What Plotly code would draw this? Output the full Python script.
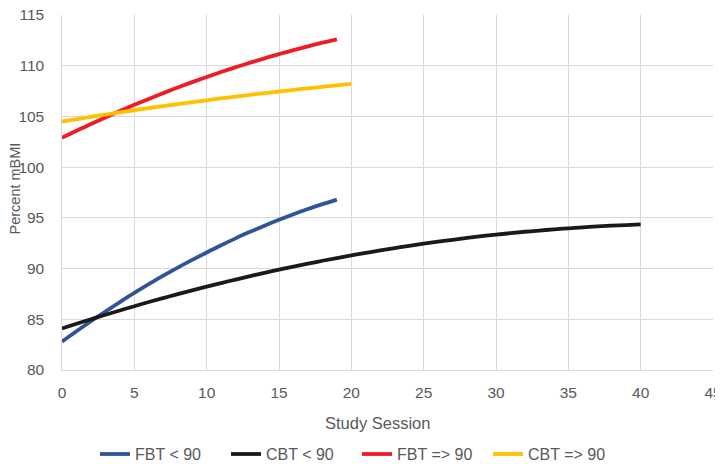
import plotly.graph_objects as go

# x values (study session)
x_fbt_lt = list(range(0, 20))
x_cbt_lt = list(range(0, 41))
x_fbt_ge = list(range(0, 20))
x_cbt_ge = list(range(0, 21))

fbt_lt90 = [82.8, 83.82, 84.81, 85.77, 86.70, 87.60, 88.46, 89.30, 90.10, 90.86,
            91.59, 92.30, 92.98, 93.62, 94.23, 94.81, 95.36, 95.87, 96.35, 96.8]
cbt_lt90 = [84.10, 84.56, 85.01, 85.45, 85.87, 86.29, 86.70, 87.09, 87.48, 87.85,
            88.22, 88.57, 88.92, 89.25, 89.58, 89.89, 90.19, 90.48, 90.77, 91.04,
            91.30, 91.55, 91.79, 92.02, 92.24, 92.45, 92.65, 92.84, 93.02, 93.19,
            93.34, 93.49, 93.63, 93.75, 93.87, 93.97, 94.07, 94.16, 94.23, 94.29, 94.35]
fbt_ge90 = [102.90, 103.59, 104.25, 104.90, 105.53, 106.14, 106.73, 107.30, 107.85, 108.38,
            108.89, 109.38, 109.85, 110.30, 110.73, 111.15, 111.54, 111.91, 112.27, 112.6]
cbt_ge90 = [104.50, 104.73, 104.96, 105.18, 105.40, 105.61, 105.81, 106.02, 106.21, 106.41,
            106.59, 106.78, 106.95, 107.13, 107.29, 107.46, 107.62, 107.77, 107.92, 108.06, 108.2]

series = [
    ("FBT < 90", x_fbt_lt, fbt_lt90, "#2F5597"),
    ("CBT < 90", x_cbt_lt, cbt_lt90, "#1A1A1A"),
    ("FBT => 90", x_fbt_ge, fbt_ge90, "#EE1C24"),
    ("CBT => 90", x_cbt_ge, cbt_ge90, "#FFC000"),
]

fig = go.Figure()
for name, xs, ys, c in series:
    fig.add_trace(go.Scatter(x=xs, y=ys, mode="lines", name=name,
                             line=dict(color=c, width=3.8, shape="spline")))

font = "Liberation Sans, Arial, sans-serif"
grid = "#D9D9D9"
txt = "#595959"
L, R, T, B = 54, 10, 7, 94
W, H = 715, 456
pw = W - L - R
ph = H - T - B

fig.update_layout(
    width=W, height=H,
    margin=dict(l=L, r=R, t=T, b=B, autoexpand=False),
    paper_bgcolor="white", plot_bgcolor="white",
    font=dict(family=font, color=txt, size=15.5),
    showlegend=True,
    legend=dict(orientation="h", x=0.0507, xanchor="left", y=-0.189, yanchor="top",
                font=dict(size=16, color=txt), itemwidth=30,
                entrywidth=86, entrywidthmode="pixels",
                tracegroupgap=0),
    xaxis=dict(range=[0, 45], dtick=5, tick0=0, showgrid=True, gridcolor=grid, gridwidth=1.3,
               showline=True, linecolor=grid, linewidth=1.3, zeroline=False, automargin=False,
               ticks="outside", ticklen=8, tickcolor="rgba(0,0,0,0)", ticklabeloverflow="allow"),
    yaxis=dict(range=[80, 115.001], dtick=5, tick0=80, showgrid=True, gridcolor=grid, gridwidth=1.3,
               showline=True, linecolor=grid, linewidth=1.3, zeroline=False, automargin=False,
               ticks="outside", ticklen=13.5, tickcolor="rgba(0,0,0,0)", ticklabeloverflow="allow"),
    annotations=[
        dict(text="Study Session", xref="paper", yref="paper", x=0.5, y=-53 / ph,
             xanchor="center", yanchor="middle", xshift=-10, showarrow=False,
             font=dict(size=16.5, color=txt)),
        dict(text="Percent mBMI", xref="paper", yref="paper", x=-L / pw, y=0.5,
             xanchor="left", yanchor="middle", xshift=-4, yshift=4, textangle=-90,
             showarrow=False, font=dict(size=14.5, color=txt)),
    ],
)
fig.write_html("out.html")
